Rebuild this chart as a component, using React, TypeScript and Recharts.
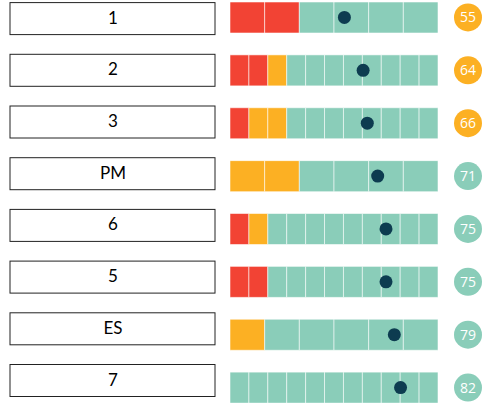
import { Bar, Cell, ComposedChart, Line, XAxis, YAxis } from 'recharts';

const names = ['1', '2', '3', 'PM', '6', '5', 'ES', '7'];
const scores = [55, 64, 66, 71, 75, 75, 79, 82];
const segmentCounts = [6, 11, 11, 6, 11, 11, 6, 11];
const redSegments = [2, 2, 1, 0, 1, 2, 0, 0];
const orangeSegments = [0, 1, 2, 2, 1, 0, 1, 0];

const RED = '#f24334';
const ORANGE = '#fcb023';
const TEAL = '#8acdb9';
const DOT = '#0d3c50';
const MAX_SEGMENTS = 11;

const segKeys = Array.from({ length: MAX_SEGMENTS }, (_, i) => `s${i}`);

const data = names.map((name, r) => {
  const row: Record<string, number | string> = { name, score: scores[r] };
  segKeys.forEach((key, i) => {
    row[key] = i < segmentCounts[r] ? 100 / segmentCounts[r] : 0;
  });
  return row;
});

function segColor(r: number, i: number) {
  if (i < redSegments[r]) return RED;
  if (i < redSegments[r] + orangeSegments[r]) return ORANGE;
  return TEAL;
}

function LabelBox(props: any) {
  const { x, y, payload } = props;
  return (
    <g>
      <rect x={x - 218} y={y - 16} width={205} height={32} fill="#fff" stroke="#222" strokeWidth={1} />
      <text x={x - 115} y={y} dy={5} textAnchor="middle" fontSize={17} fontFamily="Lato, sans-serif" fill="#000">
        {payload.value}
      </text>
    </g>
  );
}

function ScoreBadge(props: any) {
  const { x, y, payload } = props;
  const score = scores[names.indexOf(payload.value)];
  const fill = score < 70 ? ORANGE : TEAL;
  return (
    <g>
      <circle cx={x + 28} cy={y} r={14} fill={fill} />
      <text x={x + 28} y={y} dy={5} textAnchor="middle" fontSize={14} fontFamily="'Open Sans', sans-serif" fill="#fff">
        {score}
      </text>
    </g>
  );
}

export default function App() {
  return (
    <div style={{ position: 'absolute', left: 0, top: -9 }}>
      <ComposedChart
        width={484}
        height={423}
        data={data}
        layout="vertical"
        margin={{ top: 0, right: 0, bottom: 0, left: 0 }}
      >
        <XAxis type="number" domain={[0, 100]} hide />
        <YAxis
          yAxisId="labels"
          type="category"
          dataKey="name"
          orientation="left"
          width={230}
          axisLine={false}
          tickLine={false}
          tickSize={0}
          padding={{ top: 1.75, bottom: 7.65 }}
          tick={<LabelBox />}
        />
        <YAxis
          yAxisId="bars"
          type="category"
          dataKey="name"
          orientation="right"
          width={46}
          axisLine={false}
          tickLine={false}
          tickSize={0}
          tick={<ScoreBadge />}
        />
        {segKeys.map((key, i) => (
          <Bar
            key={key}
            yAxisId="bars"
            dataKey={key}
            stackId="seg"
            barSize={31}
            stroke="#ffffff"
            strokeOpacity={0.55}
            strokeWidth={1}
            isAnimationActive={false}
          >
            {data.map((_, r) => (
              <Cell key={r} fill={segColor(r, i)} />
            ))}
          </Bar>
        ))}
        <Line
          yAxisId="bars"
          dataKey="score"
          stroke="none"
          dot={{ r: 6.5, fill: DOT, stroke: 'none' }}
          activeDot={false}
          isAnimationActive={false}
        />
      </ComposedChart>
    </div>
  );
}
